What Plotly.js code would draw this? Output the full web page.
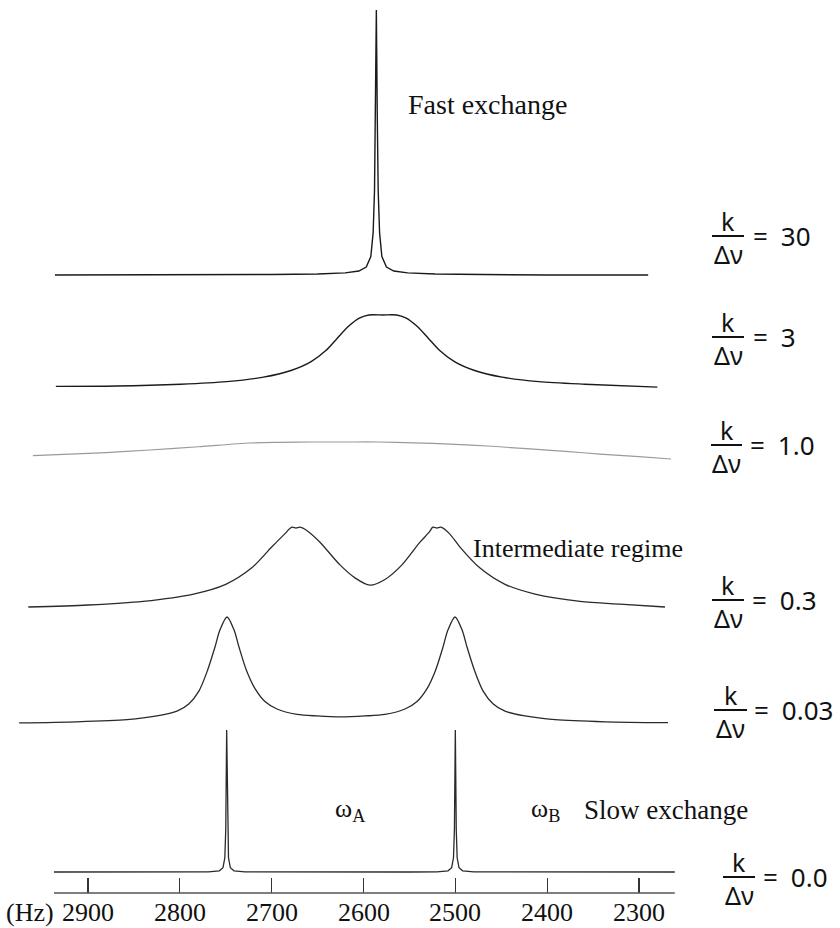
<!DOCTYPE html>
<html>
<head>
<meta charset="utf-8">
<script src="https://cdn.plot.ly/plotly-3.0.1.min.js"></script>
<style>
html,body{margin:0;padding:0;background:#fff;}
#chart{width:840px;height:928px;}
</style>
</head>
<body>
<div id="chart"></div>
<script>
// ---------------- DATA (frequency in Hz, relative intensity 0..1 per spectrum) ----------------
const ratioLabels = ['30', '3', '1.0', '0.3', '0.03', '0.0'];
const tickHz = [2900, 2800, 2700, 2600, 2500, 2400, 2300];
const tickText = ['2900', '2800', '2700', '2600', '2500', '2400', '2300'];
const axisSpanHz = [2937, 2261];

// k/Δν = 30 (fast exchange)
const fast30Hz = [2936, 2850, 2760, 2700, 2650, 2620, 2605, 2597, 2592, 2589.5, 2588, 2587, 2586, 2585, 2584, 2582.5, 2580, 2575, 2567, 2552, 2522, 2470, 2400, 2290];
const fast30I  = [0, 0, 0.001, 0.002, 0.004, 0.008, 0.015, 0.03, 0.07, 0.16, 0.32, 0.6, 1, 0.6, 0.32, 0.16, 0.07, 0.03, 0.015, 0.008, 0.004, 0.002, 0, 0];

// k/Δν = 3
const fast3Hz = [2935, 2869, 2799, 2749, 2709, 2679, 2657, 2641, 2629, 2616, 2604, 2594, 2579, 2564, 2554, 2542, 2529, 2517, 2501, 2479, 2449, 2409, 2359, 2280];
const fast3I  = [0.035, 0.04, 0.065, 0.10, 0.16, 0.25, 0.37, 0.52, 0.68, 0.85, 0.96, 1.0, 1.0, 1.0, 0.96, 0.85, 0.68, 0.52, 0.37, 0.25, 0.16, 0.10, 0.065, 0.025];

// k/Δν = 1.0 (coalescence)
const coal1Hz = [2960, 2880, 2832.5, 2780, 2723.6, 2690, 2653.9, 2620, 2584.2, 2545, 2505.8, 2460, 2418.7, 2380, 2342.4, 2300, 2265.1];
const coal1I  = [0.2, 0.38, 0.53, 0.72, 0.94, 0.98, 1.0, 1.0, 1.0, 0.95, 0.88, 0.75, 0.59, 0.45, 0.29, 0.14, 0];

// k/Δν = 0.3 (intermediate regime)
const inter03Hz = [2965, 2900, 2840, 2785, 2750, 2722, 2700, 2686, 2678, 2673.5, 2669, 2660, 2647.4, 2625.6, 2609.3, 2593.0, 2576.6, 2558.1, 2538.5, 2528, 2524.5, 2520.0, 2515.5, 2506, 2494.9, 2473.1, 2445.9, 2413.2, 2364.2, 2320.7, 2271.7];
const inter03I  = [0, 0.025, 0.07, 0.16, 0.28, 0.48, 0.74, 0.9, 0.985, 0.975, 0.985, 0.93, 0.80, 0.52, 0.36, 0.27, 0.34, 0.52, 0.80, 0.93, 0.985, 0.975, 0.985, 0.9, 0.74, 0.48, 0.28, 0.16, 0.07, 0.035, 0];

// k/Δν = 0.03
const slow003Hz = [2975, 2912.0, 2857.5, 2824.9, 2803.1, 2790.0, 2779.1, 2769.9, 2761.7, 2756.3, 2748.6, 2741.0, 2735.6, 2727.4, 2718.1, 2707.3, 2694.2, 2672.4, 2650.6, 2624.5, 2598.4, 2576.6, 2554.8, 2541.7, 2530.8, 2521.6, 2513.4, 2508.0, 2500.3, 2492.7, 2487.3, 2479.1, 2469.9, 2459.0, 2445.9, 2424.1, 2391.5, 2337.0, 2268.4];
const slow003I  = [0.01, 0.02, 0.04, 0.075, 0.12, 0.19, 0.31, 0.5, 0.72, 0.88, 1.0, 0.88, 0.72, 0.5, 0.33, 0.21, 0.14, 0.09, 0.075, 0.066, 0.075, 0.09, 0.14, 0.21, 0.33, 0.5, 0.72, 0.88, 1.0, 0.88, 0.72, 0.5, 0.31, 0.19, 0.12, 0.075, 0.04, 0.02, 0.012];

// k/Δν = 0.0 (slow exchange: ωA and ωB)
const slow0Hz = [2937, 2790, 2769, 2757, 2753, 2751, 2750, 2749, 2748, 2747, 2745, 2741, 2729, 2700, 2625, 2550, 2520, 2508, 2504, 2502, 2501, 2500, 2499, 2498, 2496, 2492, 2480, 2400, 2261];
const slow0I  = [0, 0, 0.001, 0.008, 0.03, 0.1, 0.3, 1, 0.3, 0.1, 0.03, 0.008, 0.001, 0, 0, 0, 0.001, 0.008, 0.03, 0.1, 0.3, 1, 0.3, 0.1, 0.03, 0.008, 0.001, 0, 0];

// ---------------- LAYOUT / STYLE ----------------
const W = 840, H = 928;
const series = [
  {x: fast30Hz,  y: fast30I,  base: 275, top: 10,  color: '#1a1a1a', width: 1.4, shape: 'linear'},
  {x: fast3Hz,   y: fast3I,   base: 389, top: 315, color: '#1a1a1a', width: 1.4, shape: 'spline'},
  {x: coal1Hz,   y: coal1I,   base: 459, top: 442, color: '#9a9a9a', width: 1.2, shape: 'spline'},
  {x: inter03Hz, y: inter03I, base: 607, top: 526, color: '#2a2a2a', width: 1.3, shape: 'spline'},
  {x: slow003Hz, y: slow003I, base: 724, top: 617, color: '#2a2a2a', width: 1.3, shape: 'spline'},
  {x: slow0Hz,   y: slow0I,   base: 872, top: 730, color: '#2a2a2a', width: 1.3, shape: 'linear'}
];
// label placement (pixels): fraction-bar y, bar x0,x1, x of "= value"
const labelPos = [
  {barY: 236, x0: 712, x1: 744, eqX: 751},
  {barY: 337, x0: 712, x1: 744, eqX: 751},
  {barY: 445, x0: 711, x1: 742, eqX: 748},
  {barY: 600, x0: 712, x1: 744, eqX: 750},
  {barY: 710, x0: 714, x1: 747, eqX: 752},
  {barY: 877, x0: 723, x1: 755, eqX: 761}
];

const px = v => v / W;
const py = v => 1 - v / H;
const pad = 4;
const axisY = 893;

const traces = [];
const layout = {
  width: W, height: H,
  margin: {l: 0, r: 0, t: 0, b: 0},
  paper_bgcolor: '#ffffff', plot_bgcolor: 'rgba(0,0,0,0)',
  showlegend: false,
  xaxis: {
    domain: [0, 1],
    range: [2995.83, 2081.11],
    anchor: 'free', position: 1 - axisY / H,
    showline: false,
    ticks: 'inside', ticklen: 15, tickwidth: 1.2, tickcolor: '#333333',
    tickmode: 'array', tickvals: tickHz, ticktext: tickText,
    showticklabels: false,
    showgrid: false, zeroline: false, fixedrange: true
  },
  annotations: [],
  shapes: [{
    type: 'line', xref: 'x', yref: 'paper',
    x0: axisSpanHz[0], x1: axisSpanHz[1], y0: py(axisY), y1: py(axisY),
    line: {color: '#555555', width: 1.5}
  }]
};

series.forEach((s, i) => {
  const name = i === 0 ? 'y' : 'y' + (i + 1);
  const key = i === 0 ? 'yaxis' : 'yaxis' + (i + 1);
  const h = s.base - s.top;
  layout[key] = {
    domain: [py(s.base + pad), py(s.top - pad)],
    range: [-pad / h, 1 + pad / h],
    visible: false, showgrid: false, zeroline: false, fixedrange: true, anchor: 'x'
  };
  traces.push({
    type: 'scatter', mode: 'lines', x: s.x, y: s.y, xaxis: 'x', yaxis: name,
    line: {color: s.color, width: s.width, shape: s.shape, smoothing: 0.8},
    hoverinfo: 'skip'
  });
});

const serif = 'Liberation Serif';
const sans = 'Noto Sans';
function note(text, x, y, size, family, xanchor) {
  layout.annotations.push({
    text: text, xref: 'paper', yref: 'paper', x: px(x), y: py(y),
    xanchor: xanchor || 'center', yanchor: 'middle', showarrow: false,
    font: {family: family, size: size, color: '#111'}
  });
}

// tick labels placed on the x axis scale
tickHz.forEach((v, i) => {
  layout.annotations.push({
    text: tickText[i], xref: 'x', yref: 'paper', x: v, y: py(912),
    xanchor: 'center', yanchor: 'middle', showarrow: false,
    font: {family: serif, size: 26, color: '#111'}
  });
});

note('Fast exchange', 487, 105, 28, serif);
note('Intermediate regime', 578, 548, 26, serif);
note('Slow exchange', 666, 810, 27, serif);
note('ω<sub>A</sub>', 350, 810, 26, serif);
note('ω<sub>B</sub>', 545, 810, 26, serif);
note('(Hz)', 56, 912, 26, serif, 'right');

ratioLabels.forEach((t, i) => {
  const p = labelPos[i];
  const mid = (p.x0 + p.x1) / 2;
  note('k', mid, p.barY - 15, 25, sans);
  note('Δν', mid, p.barY + 18, 25, sans);
  note('=\u2002' + t, p.eqX, p.barY, 26, sans, 'left');
  layout.shapes.push({
    type: 'line', xref: 'paper', yref: 'paper',
    x0: px(p.x0), x1: px(p.x1), y0: py(p.barY), y1: py(p.barY),
    line: {color: '#111', width: 2}
  });
});

Plotly.newPlot('chart', traces, layout, {displayModeBar: false, staticPlot: true});
</script>
</body>
</html>
